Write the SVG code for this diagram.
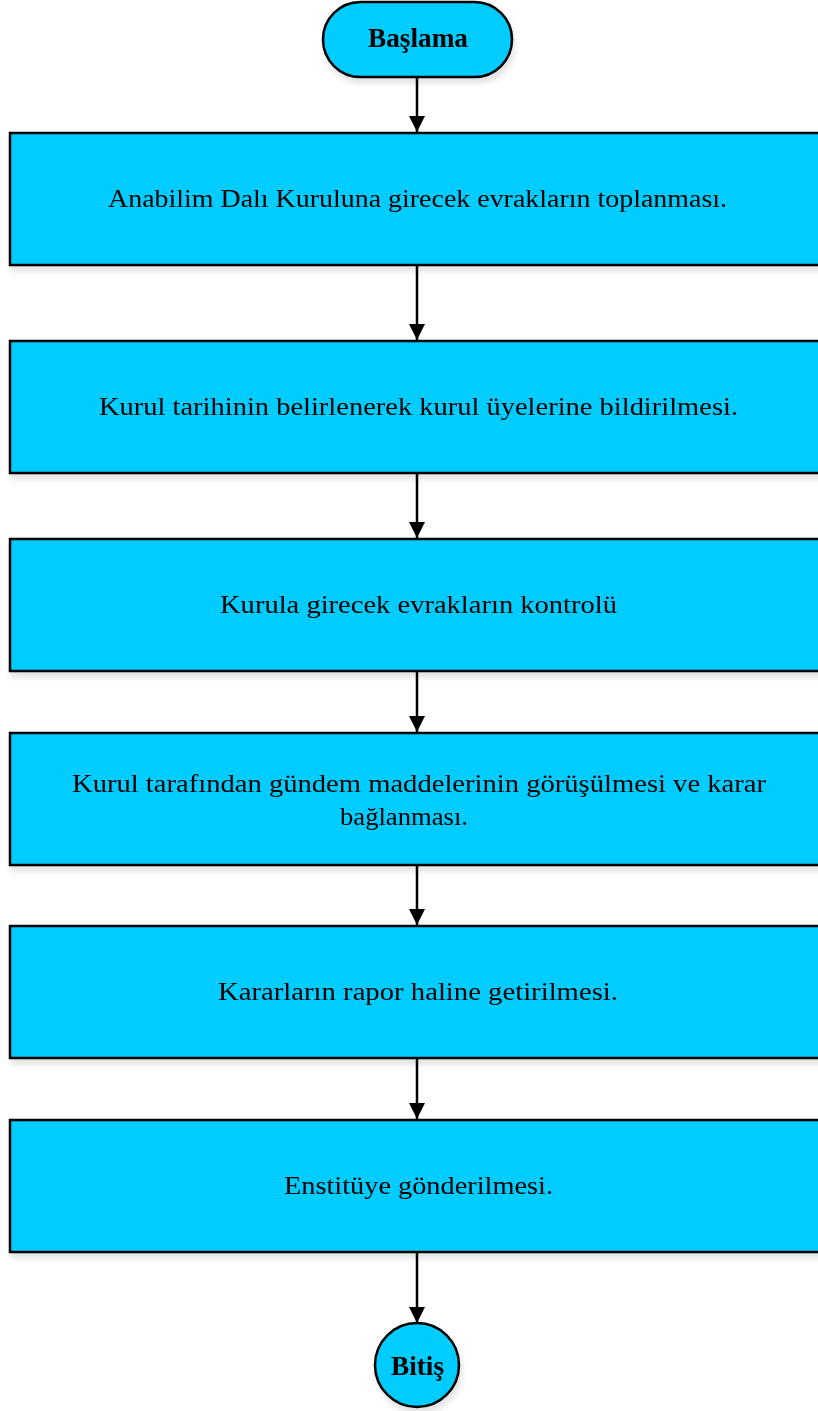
<svg xmlns="http://www.w3.org/2000/svg" width="818" height="1411" viewBox="0 0 818 1411">
<style>
.n{fill:#00CCFF;stroke:#000;stroke-width:2.5}
.t{font-family:"Liberation Serif",serif;font-size:25px;fill:#000;text-anchor:middle}
.b{font-weight:bold;font-size:27px}
.c{stroke:#000;stroke-width:2.5;fill:none}
</style>
<defs>
<marker id="ah" markerWidth="16" markerHeight="16" refX="16" refY="8" orient="auto" markerUnits="userSpaceOnUse">
<path d="M0,0 L16,8 L0,16 z" fill="#000"/>
</marker>
<filter id="sh" x="-5%" y="-5%" width="115%" height="130%">
<feGaussianBlur in="SourceAlpha" stdDeviation="3"/>
<feOffset dx="2" dy="5"/>
<feComponentTransfer><feFuncA type="linear" slope="0.12"/></feComponentTransfer>
<feMerge><feMergeNode/><feMergeNode in="SourceGraphic"/></feMerge>
</filter>
</defs>
<g id="connectors">
<line class="c" x1="417" y1="77" x2="417" y2="132" marker-end="url(#ah)"/>
<line class="c" x1="417" y1="265" x2="417" y2="340" marker-end="url(#ah)"/>
<line class="c" x1="417" y1="473" x2="417" y2="538" marker-end="url(#ah)"/>
<line class="c" x1="417" y1="671" x2="417" y2="732" marker-end="url(#ah)"/>
<line class="c" x1="417" y1="865" x2="417" y2="925" marker-end="url(#ah)"/>
<line class="c" x1="417" y1="1058" x2="417" y2="1119" marker-end="url(#ah)"/>
<line class="c" x1="417" y1="1252" x2="417" y2="1323" marker-end="url(#ah)"/>
</g>
<g id="start" filter="url(#sh)">
<rect class="n" x="323" y="2" width="189" height="75" rx="37.5"/>
<text class="t b" x="418" y="47" textLength="100" lengthAdjust="spacingAndGlyphs">Başlama</text>
</g>
<g id="step1" filter="url(#sh)">
<rect class="n" x="10" y="133" width="820" height="132"/>
<text class="t" x="417.5" y="207" textLength="619" lengthAdjust="spacingAndGlyphs">Anabilim Dalı Kuruluna girecek evrakların toplanması.</text>
</g>
<g id="step2" filter="url(#sh)">
<rect class="n" x="10" y="341" width="820" height="132"/>
<text class="t" x="418.5" y="415" textLength="639" lengthAdjust="spacingAndGlyphs">Kurul tarihinin belirlenerek kurul üyelerine bildirilmesi.</text>
</g>
<g id="step3" filter="url(#sh)">
<rect class="n" x="10" y="539" width="820" height="132"/>
<text class="t" x="418.5" y="613" textLength="397" lengthAdjust="spacingAndGlyphs">Kurula girecek evrakların kontrolü</text>
</g>
<g id="step4" filter="url(#sh)">
<rect class="n" x="10" y="733" width="820" height="132"/>
<text class="t" x="419" y="792" textLength="694" lengthAdjust="spacingAndGlyphs">Kurul tarafından gündem maddelerinin görüşülmesi ve karar</text>
<text class="t" x="404" y="825" textLength="128" lengthAdjust="spacingAndGlyphs">bağlanması.</text>
</g>
<g id="step5" filter="url(#sh)">
<rect class="n" x="10" y="926" width="820" height="132"/>
<text class="t" x="418" y="1000" textLength="400" lengthAdjust="spacingAndGlyphs">Kararların rapor haline getirilmesi.</text>
</g>
<g id="step6" filter="url(#sh)">
<rect class="n" x="10" y="1120" width="820" height="132"/>
<text class="t" x="418.5" y="1194" textLength="269" lengthAdjust="spacingAndGlyphs">Enstitüye gönderilmesi.</text>
</g>
<g id="end" filter="url(#sh)">
<circle class="n" cx="417" cy="1365" r="42"/>
<text class="t b" x="417.5" y="1375" textLength="53" lengthAdjust="spacingAndGlyphs">Bitiş</text>
</g>
</svg>
